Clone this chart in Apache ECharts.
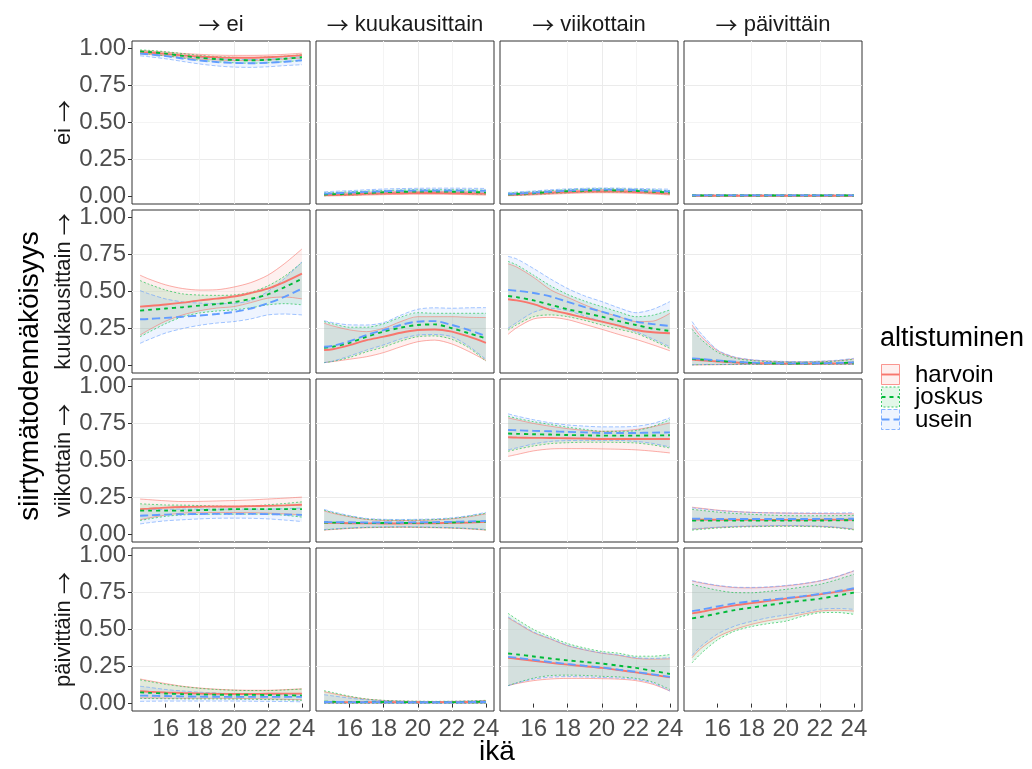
<!DOCTYPE html>
<html>
<head>
<meta charset="utf-8">
<script src="https://cdn.jsdelivr.net/npm/echarts@6/dist/echarts.min.js"></script>
<style>html,body{margin:0;padding:0;background:#fff;}#c{width:1032px;height:769px;}</style>
</head>
<body>
<div id="c"></div>
<script>
// ---------- data ----------
const ages = [14.5, 15, 16, 17, 18, 19, 20, 21, 22, 23, 24];
const states = ['ei', 'kuukausittain', 'viikottain', 'päivittäin'];
const groups = ['harvoin', 'joskus', 'usein'];
const xTicks = [16, 18, 20, 22, 24];
const yTicks = [0, 0.25, 0.5, 0.75, 1];

// each: [harvoin, joskus, usein]
// from ei
const fit_ei_ei = [[.975,.972,.963,.953,.945,.940,.937,.937,.940,.946,.955],[.980,.976,.965,.950,.937,.928,.922,.920,.923,.930,.940],[.965,.960,.948,.932,.918,.908,.902,.900,.903,.910,.920]];
const lo_ei_ei  = [[.962,.960,.950,.938,.928,.922,.918,.918,.922,.928,.935],[.968,.963,.950,.935,.920,.910,.903,.900,.903,.910,.918],[.950,.944,.930,.912,.895,.882,.874,.872,.876,.884,.890]];
const hi_ei_ei  = [[.985,.983,.975,.966,.960,.955,.953,.953,.955,.960,.968],[.990,.987,.978,.965,.953,.945,.940,.938,.942,.948,.958],[.978,.974,.963,.950,.938,.930,.926,.925,.928,.935,.945]];

const fit_ei_kk = [[.010,.011,.014,.018,.021,.023,.024,.024,.023,.021,.018],[.014,.016,.020,.025,.029,.032,.034,.034,.033,.031,.028],[.020,.022,.027,.032,.036,.039,.041,.041,.041,.040,.039]];
const lo_ei_kk  = [[.004,.005,.007,.010,.013,.015,.016,.016,.015,.013,.010],[.006,.007,.010,.015,.019,.022,.023,.023,.022,.019,.015],[.010,.012,.016,.021,.025,.028,.030,.030,.029,.027,.024]];
const hi_ei_kk  = [[.020,.021,.024,.028,.031,.033,.034,.034,.033,.032,.030],[.025,.027,.032,.037,.041,.044,.046,.046,.046,.045,.043],[.032,.035,.040,.046,.051,.054,.056,.057,.057,.056,.055]];

const fit_ei_vk = [[.012,.014,.019,.025,.030,.034,.035,.034,.031,.026,.020],[.015,.017,.023,.030,.036,.040,.042,.041,.038,.033,.028],[.018,.020,.027,.034,.040,.045,.047,.046,.043,.039,.035]];
const lo_ei_vk  = [[.006,.007,.011,.016,.021,.025,.026,.025,.022,.017,.011],[.008,.009,.014,.020,.026,.030,.032,.031,.028,.023,.017],[.010,.012,.017,.024,.030,.034,.036,.035,.032,.027,.022]];
const hi_ei_vk  = [[.020,.023,.028,.035,.040,.044,.046,.045,.042,.037,.031],[.024,.027,.033,.040,.047,.051,.053,.052,.049,.045,.040],[.028,.031,.038,.046,.052,.056,.058,.057,.055,.052,.050]];

const fit_ei_pv = [[.006,.006,.006,.006,.006,.006,.006,.006,.006,.006,.006],[.007,.007,.007,.007,.007,.007,.007,.007,.007,.007,.007],[.008,.008,.008,.008,.008,.008,.008,.008,.008,.008,.008]];
const lo_ei_pv  = [[.003,.003,.003,.003,.003,.003,.003,.003,.003,.003,.003],[.004,.004,.004,.004,.004,.004,.004,.004,.004,.004,.004],[.004,.004,.004,.004,.004,.004,.004,.004,.004,.004,.004]];
const hi_ei_pv  = [[.010,.010,.010,.010,.010,.010,.010,.010,.010,.010,.010],[.011,.011,.011,.011,.011,.011,.011,.011,.011,.011,.011],[.013,.013,.013,.013,.013,.013,.013,.013,.013,.013,.013]];

// from kuukausittain
const fit_kk_ei = [[.398,.402,.412,.425,.440,.452,.466,.490,.520,.565,.620],[.371,.376,.385,.394,.405,.415,.428,.450,.480,.530,.585],[.313,.315,.322,.330,.338,.348,.362,.385,.420,.465,.520]];
const lo_kk_ei  = [[.206,.240,.300,.342,.370,.388,.398,.425,.455,.463,.450],[.195,.225,.283,.330,.355,.368,.376,.390,.410,.418,.410],[.150,.175,.220,.250,.272,.287,.297,.315,.342,.348,.342]];
const hi_kk_ei  = [[.610,.585,.545,.520,.510,.512,.530,.560,.610,.690,.787],[.574,.550,.510,.484,.476,.474,.477,.495,.538,.605,.696],[.506,.485,.450,.430,.422,.418,.420,.440,.500,.590,.700]];

const fit_kk_kk = [[.105,.110,.138,.172,.195,.222,.240,.244,.229,.195,.154],[.120,.127,.154,.195,.229,.256,.274,.278,.252,.218,.184],[.127,.133,.165,.206,.240,.274,.297,.300,.274,.240,.200]];
const lo_kk_kk  = [[.020,.027,.043,.060,.088,.127,.161,.172,.146,.095,.034],[.020,.028,.055,.093,.125,.165,.195,.200,.177,.120,.030],[.020,.030,.065,.105,.140,.180,.206,.210,.195,.130,.042]];
const hi_kk_kk  = [[.286,.268,.241,.229,.252,.297,.330,.330,.330,.326,.324],[.297,.282,.259,.259,.282,.327,.357,.353,.353,.353,.353],[.303,.290,.275,.274,.290,.340,.380,.390,.387,.390,.391]];

const fit_kk_vk = [[.448,.440,.415,.376,.350,.322,.297,.270,.240,.225,.218],[.470,.462,.440,.410,.380,.355,.330,.300,.274,.250,.234],[.511,.505,.490,.466,.430,.395,.364,.330,.297,.280,.267]];
const lo_kk_vk  = [[.211,.255,.315,.325,.310,.278,.245,.210,.177,.140,.100],[.240,.275,.330,.342,.330,.305,.274,.245,.218,.170,.116],[.252,.290,.360,.387,.370,.335,.297,.265,.229,.180,.127]];
const hi_kk_vk  = [[.687,.665,.595,.511,.460,.410,.364,.330,.297,.300,.353],[.703,.680,.610,.538,.480,.435,.398,.362,.330,.340,.376],[.737,.720,.655,.584,.520,.470,.432,.390,.357,.380,.432]];

const fit_kk_pv = [[.040,.036,.028,.021,.017,.014,.013,.013,.014,.016,.019],[.045,.041,.032,.024,.018,.015,.014,.014,.015,.017,.020],[.049,.045,.035,.026,.020,.017,.015,.015,.016,.018,.022]];
const lo_kk_pv  = [[.004,.005,.006,.007,.008,.008,.008,.008,.008,.008,.008],[.005,.006,.007,.008,.009,.009,.009,.009,.009,.009,.009],[.006,.007,.008,.009,.010,.010,.010,.010,.010,.010,.010]];
const hi_kk_pv  = [[.274,.200,.100,.055,.038,.030,.026,.025,.028,.033,.045],[.245,.180,.090,.050,.034,.028,.024,.023,.026,.031,.042],[.297,.220,.105,.058,.040,.032,.028,.027,.030,.036,.049]];

// from viikottain
const fit_vk_ei = [[.172,.175,.182,.186,.188,.190,.190,.192,.194,.197,.201],[.162,.162,.162,.162,.165,.168,.172,.172,.172,.172,.172],[.127,.130,.135,.138,.139,.140,.140,.140,.138,.136,.133]];
const lo_vk_ei  = [[.100,.112,.132,.145,.148,.149,.149,.148,.145,.140,.133],[.095,.105,.123,.133,.136,.138,.138,.138,.138,.130,.118],[.072,.080,.093,.100,.106,.110,.111,.110,.106,.098,.088]];
const hi_vk_ei  = [[.240,.236,.228,.223,.224,.227,.230,.234,.240,.246,.253],[.208,.205,.200,.199,.196,.193,.190,.193,.201,.210,.221],[.167,.168,.170,.172,.172,.172,.172,.172,.172,.175,.179]];

const fit_vk_kk = [[.080,.079,.077,.076,.075,.075,.076,.077,.079,.082,.086],[.082,.081,.079,.078,.078,.078,.079,.080,.082,.085,.088],[.085,.084,.083,.082,.082,.082,.083,.084,.086,.089,.092]];
const lo_vk_kk  = [[.030,.034,.041,.046,.048,.049,.048,.046,.043,.038,.030],[.032,.036,.043,.048,.050,.051,.050,.048,.045,.040,.032],[.034,.038,.045,.050,.052,.053,.052,.050,.047,.042,.035]];
const hi_vk_kk  = [[.160,.144,.120,.102,.096,.095,.096,.099,.106,.120,.140],[.165,.149,.124,.105,.099,.098,.099,.102,.109,.124,.144],[.170,.154,.128,.109,.103,.102,.103,.106,.113,.128,.150]];

const fit_vk_vk = [[.657,.655,.653,.652,.650,.648,.645,.645,.645,.645,.645],[.682,.680,.677,.675,.672,.670,.668,.668,.668,.669,.670],[.706,.704,.700,.697,.693,.690,.686,.686,.686,.688,.690]];
const lo_vk_vk  = [[.528,.540,.565,.578,.580,.580,.578,.576,.572,.563,.551],[.562,.575,.598,.614,.620,.623,.623,.622,.618,.605,.584],[.572,.585,.612,.629,.634,.636,.636,.635,.629,.615,.591]];
const hi_vk_vk  = [[.788,.775,.750,.731,.715,.703,.697,.700,.709,.728,.754],[.799,.785,.762,.743,.725,.710,.697,.697,.702,.730,.776],[.815,.800,.775,.754,.740,.732,.727,.727,.731,.750,.788]];

const fit_vk_pv = [[.102,.101,.100,.100,.099,.099,.099,.099,.100,.100,.100],[.094,.094,.094,.094,.094,.094,.095,.095,.095,.096,.097],[.108,.107,.106,.105,.105,.105,.105,.105,.106,.106,.107]];
const lo_vk_pv  = [[.036,.040,.048,.053,.056,.058,.059,.058,.055,.048,.036],[.030,.035,.044,.050,.053,.055,.056,.055,.052,.045,.032],[.038,.042,.050,.055,.058,.060,.061,.060,.057,.050,.038]];
const hi_vk_pv  = [[.185,.178,.165,.156,.150,.147,.145,.143,.142,.141,.140],[.170,.164,.152,.143,.137,.132,.128,.127,.127,.128,.130],[.180,.175,.163,.155,.150,.147,.146,.146,.146,.146,.148]];

// from päivittäin
const fit_pv_ei = [[.083,.080,.075,.071,.068,.066,.065,.065,.066,.067,.067],[.076,.073,.068,.064,.062,.060,.060,.059,.058,.056,.054],[.054,.053,.051,.049,.047,.046,.045,.045,.045,.045,.045]];
const lo_pv_ei  = [[.038,.038,.037,.036,.036,.036,.035,.034,.032,.029,.026],[.035,.034,.033,.032,.031,.031,.030,.029,.027,.025,.022],[.015,.016,.017,.017,.017,.017,.017,.016,.015,.014,.012]];
const hi_pv_ei  = [[.166,.155,.135,.117,.105,.097,.092,.090,.090,.094,.100],[.160,.150,.130,.115,.103,.095,.090,.088,.088,.092,.098],[.117,.110,.095,.085,.077,.071,.067,.065,.064,.064,.065]];

const fit_pv_kk = [[.010,.010,.010,.010,.010,.010,.010,.010,.010,.011,.012],[.012,.012,.011,.011,.011,.010,.010,.010,.010,.011,.012],[.011,.011,.010,.010,.010,.009,.009,.009,.009,.010,.011]];
const lo_pv_kk  = [[.002,.002,.002,.002,.002,.002,.002,.002,.002,.002,.002],[.002,.002,.002,.002,.002,.002,.002,.002,.002,.002,.002],[.002,.002,.002,.002,.002,.002,.002,.002,.002,.002,.002]];
const hi_pv_kk  = [[.080,.068,.046,.030,.021,.017,.015,.014,.015,.017,.021],[.087,.075,.050,.031,.022,.018,.016,.015,.016,.018,.022],[.060,.052,.037,.025,.018,.015,.013,.013,.014,.016,.019]];

const fit_pv_vk = [[.309,.303,.289,.275,.263,.252,.241,.226,.211,.194,.177],[.338,.332,.318,.304,.292,.281,.270,.256,.241,.221,.200],[.315,.309,.295,.280,.267,.255,.244,.229,.214,.197,.180]];
const lo_pv_vk  = [[.121,.135,.155,.166,.170,.170,.168,.165,.155,.130,.085],[.121,.140,.172,.189,.192,.190,.184,.180,.170,.145,.095],[.121,.138,.165,.178,.182,.180,.176,.172,.163,.138,.085]];
const hi_pv_vk  = [[.579,.545,.478,.435,.390,.362,.340,.325,.305,.300,.302],[.609,.570,.500,.450,.405,.375,.352,.340,.320,.320,.331],[.585,.550,.483,.438,.393,.364,.342,.328,.310,.305,.310]];

const fit_pv_pv = [[.609,.618,.642,.663,.678,.693,.708,.722,.737,.754,.771],[.575,.584,.608,.631,.648,.665,.681,.695,.708,.728,.749],[.624,.633,.656,.676,.690,.701,.712,.725,.740,.758,.778]];
const lo_pv_pv  = [[.309,.370,.450,.500,.535,.560,.579,.603,.624,.630,.624],[.275,.335,.430,.489,.520,.540,.556,.590,.613,.615,.602],[.324,.385,.470,.523,.555,.580,.598,.615,.636,.642,.636]];
const hi_pv_pv  = [[.827,.815,.795,.783,.781,.785,.794,.808,.827,.856,.895],[.805,.790,.765,.749,.748,.758,.771,.787,.805,.836,.873],[.830,.818,.798,.786,.784,.788,.797,.810,.829,.858,.897]];

// panel table [row = from][col = to] -> [fit, lo, hi]
const panels = [
  [[fit_ei_ei, lo_ei_ei, hi_ei_ei], [fit_ei_kk, lo_ei_kk, hi_ei_kk], [fit_ei_vk, lo_ei_vk, hi_ei_vk], [fit_ei_pv, lo_ei_pv, hi_ei_pv]],
  [[fit_kk_ei, lo_kk_ei, hi_kk_ei], [fit_kk_kk, lo_kk_kk, hi_kk_kk], [fit_kk_vk, lo_kk_vk, hi_kk_vk], [fit_kk_pv, lo_kk_pv, hi_kk_pv]],
  [[fit_vk_ei, lo_vk_ei, hi_vk_ei], [fit_vk_kk, lo_vk_kk, hi_vk_kk], [fit_vk_vk, lo_vk_vk, hi_vk_vk], [fit_vk_pv, lo_vk_pv, hi_vk_pv]],
  [[fit_pv_ei, lo_pv_ei, hi_pv_ei], [fit_pv_kk, lo_pv_kk, hi_pv_kk], [fit_pv_vk, lo_pv_vk, hi_pv_vk], [fit_pv_pv, lo_pv_pv, hi_pv_pv]]
];

// ---------- style ----------
const colors = ['#F8766D', '#00BA38', '#619CFF'];
const fitDash = ['solid', [4, 4], [8, 4]];
const bandDash = ['solid', [2, 2], [4, 2]];
const FONT = '"Liberation Sans", Arial, sans-serif';
const ARROWFONT = '"Noto Sans CJK JP", "DejaVu Sans", sans-serif';
const PL = 132, PT = 41, PW = 178, PH = 163, GX = 184, GY = 169;
const SMOOTH = 0.3;

const grids = [], xAxes = [], yAxes = [], series = [], graphics = [];

function ribbon(idx, lo, hi, g) {
  return {
    type: 'custom', xAxisIndex: idx, yAxisIndex: idx, silent: true, animation: false, z: 1,
    clip: true,
    data: [[ages[0], lo[g][0]]],
    renderItem: function (params, api) {
      const top = ages.map((a, i) => api.coord([a, hi[g][i]]));
      const bot = ages.map((a, i) => api.coord([a, lo[g][i]])).reverse();
      return { type: 'polygon', shape: { points: top.concat(bot) },
        style: { fill: colors[g], opacity: 0.11 } };
    }
  };
}

for (let r = 0; r < 4; r++) {
  for (let c = 0; c < 4; c++) {
    const idx = r * 4 + c;
    grids.push({ left: PL + GX * c, top: PT + GY * r, width: PW, height: PH,
      show: true, borderColor: '#333333', borderWidth: 1, backgroundColor: '#ffffff' });
    xAxes.push({ gridIndex: idx, type: 'value', min: 14.025, max: 24.475, interval: 1,
      axisLine: { show: false },
      axisTick: { show: r === 3, customValues: xTicks, length: 4, lineStyle: { color: '#333333', width: 1 } },
      axisLabel: { show: r === 3, customValues: xTicks, fontSize: 24, color: '#4D4D4D', margin: 6, fontFamily: FONT },
      splitLine: { show: true, showMinLine: false, showMaxLine: false, lineStyle: { color: ['#F4F4F4', '#EBEBEB'], width: 1 } }
    });
    yAxes.push({ gridIndex: idx, type: 'value', min: -0.05, max: 1.05, interval: 0.125,
      axisLine: { show: false },
      axisTick: { show: c === 0, customValues: yTicks, length: 4, lineStyle: { color: '#333333', width: 1 } },
      axisLabel: { show: c === 0, customValues: yTicks, fontSize: 24, color: '#4D4D4D', margin: 6, fontFamily: FONT,
        formatter: v => v.toFixed(2) },
      splitLine: { show: true, showMinLine: false, showMaxLine: false, lineStyle: { color: ['#EBEBEB', '#F4F4F4'], width: 1 } }
    });
    const [fit, lo, hi] = panels[r][c];
    for (let g = 0; g < 3; g++) {
      series.push(ribbon(idx, lo, hi, g));
    }
    for (let g = 0; g < 3; g++) {
      [lo, hi].forEach(function (bound, k) {
        series.push({ type: 'line', xAxisIndex: idx, yAxisIndex: idx, symbol: 'none', showSymbol: false,
          smooth: SMOOTH, silent: true, animation: false, z: 2, name: groups[g] + (k ? '_hi' : '_lo'),
          data: ages.map((a, i) => [a, bound[g][i]]),
          lineStyle: { color: colors[g], width: 0.9, opacity: 0.65, type: bandDash[g] } });
      });
    }
    for (let g = 0; g < 3; g++) {
      series.push({ type: 'line', xAxisIndex: idx, yAxisIndex: idx, symbol: 'none', showSymbol: false,
        smooth: SMOOTH, silent: true, animation: false, z: 4, name: groups[g],
        data: ages.map((a, i) => [a, fit[g][i]]),
        lineStyle: { color: colors[g], width: 1.9, type: fitDash[g] } });
    }
  }
}

const richArrow = { a: { fontFamily: ARROWFONT, fontSize: 22, fill: '#1A1A1A' } };
// strip labels
for (let c = 0; c < 4; c++) {
  graphics.push({ type: 'text', x: PL + GX * c + PW / 2, y: 25, silent: true,
    style: { text: '{a|→} ' + states[c], rich: richArrow, fontSize: 22, fontFamily: FONT, fill: '#1A1A1A', align: 'center', verticalAlign: 'middle' } });
}
for (let r = 0; r < 4; r++) {
  graphics.push({ type: 'text', x: 64, y: PT + GY * r + PH / 2, rotation: Math.PI / 2, silent: true,
    style: { text: states[r] + ' {a|→}', rich: richArrow, fontSize: 22, fontFamily: FONT, fill: '#1A1A1A', align: 'center', verticalAlign: 'middle' } });
}
// axis titles
graphics.push({ type: 'text', x: 30, y: PT + (GY * 3 + PH) / 2, rotation: Math.PI / 2, silent: true,
  style: { text: 'siirtymätodennäköisyys', fontSize: 28, fontFamily: FONT, fill: '#000', align: 'center', verticalAlign: 'middle' } });
graphics.push({ type: 'text', x: PL + (GX * 3 + PW) / 2, y: 752, silent: true,
  style: { text: 'ikä', fontSize: 28, fontFamily: FONT, fill: '#000', align: 'center', verticalAlign: 'middle' } });

// legend
graphics.push({ type: 'text', x: 880, y: 339, silent: true,
  style: { text: 'altistuminen', fontSize: 27, fontFamily: FONT, fill: '#000', align: 'left', verticalAlign: 'middle' } });
const keyTop = [364, 386.5, 409];
for (let g = 0; g < 3; g++) {
  const y0 = keyTop[g];
  graphics.push({ type: 'rect', silent: true, shape: { x: 881.5, y: y0 + 0.5, width: 18, height: 20 },
    style: { fill: colors[g], fillOpacity: 0.11, stroke: colors[g], strokeOpacity: 0.75, lineWidth: 1, lineDash: bandDash[g] === 'solid' ? null : bandDash[g] } });
  graphics.push({ type: 'line', silent: true, shape: { x1: 881.5, y1: y0 + 10.5, x2: 899.5, y2: y0 + 10.5 },
    style: { stroke: colors[g], lineWidth: 1.9, lineDash: fitDash[g] === 'solid' ? null : fitDash[g] } });
  graphics.push({ type: 'text', x: 915, y: y0 + 11, silent: true,
    style: { text: groups[g], fontSize: 24, fontFamily: FONT, fill: '#000', align: 'left', verticalAlign: 'middle' } });
}

const chart = echarts.init(document.getElementById('c'), null, { renderer: 'canvas' });
chart.setOption({
  animation: false,
  backgroundColor: '#ffffff',
  grid: grids, xAxis: xAxes, yAxis: yAxes, series: series, graphic: graphics
});
</script>
</body>
</html>
